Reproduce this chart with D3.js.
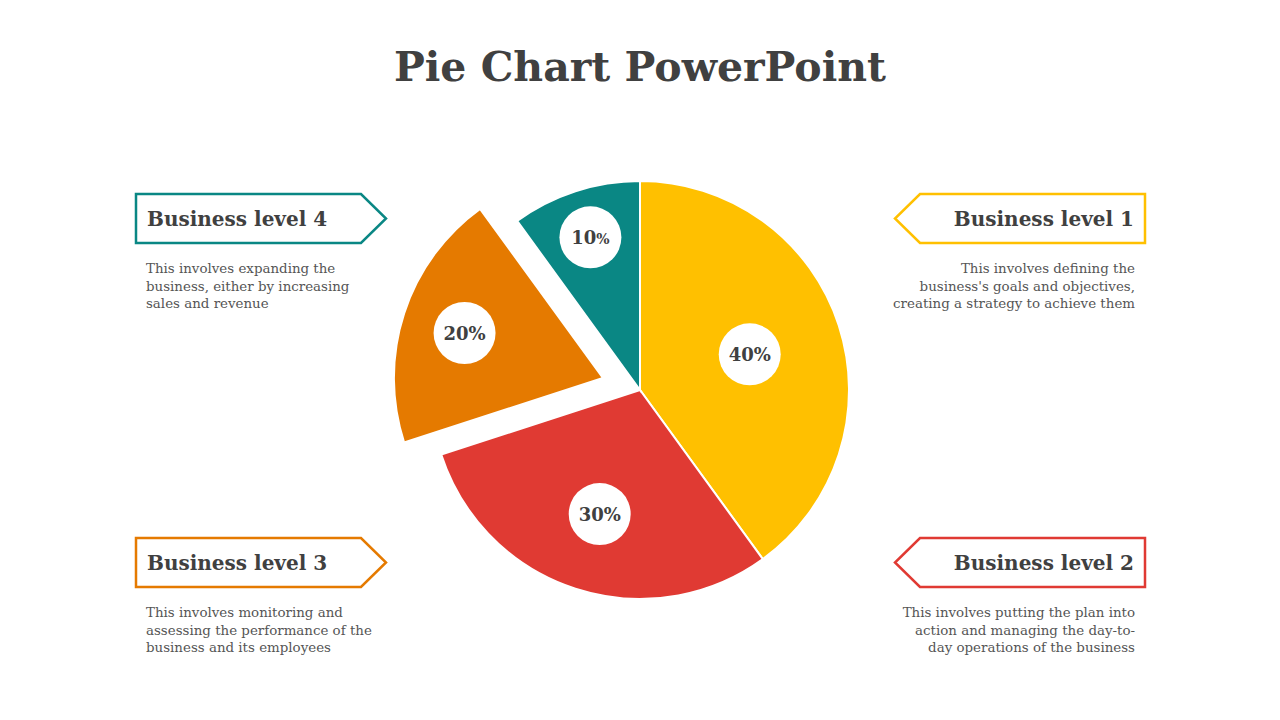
<!DOCTYPE html>
<html>
<head>
<meta charset="utf-8">
<script src="https://cdn.jsdelivr.net/npm/d3@7"></script>
<style>
  body { margin: 0; background: #fff; }
  svg { display: block; }
</style>
</head>
<body>
<script>
let width = 1280;
let height = 720;

let levels = ["Business level 1", "Business level 2", "Business level 3", "Business level 4"];
let shares = [40, 30, 20, 10];
let colors = ["#FFC000", "#E03A33", "#E57A00", "#0A8784"];
let exploded = [false, false, true, false];
let notes = [
    ["This involves defining the", "business's goals and objectives,", "creating a strategy to achieve them"],
    ["This involves putting the plan into", "action and managing the day-to-", "day operations of the business"],
    ["This involves monitoring and", "assessing the performance of the", "business and its employees"],
    ["This involves expanding the", "business, either by increasing", "sales and revenue"]
];

let serif = "'DejaVu Serif', 'Liberation Serif', serif";
let textColor = "#404040";

let svg = d3.select("body")
            .append("svg")
            .attr("width", width)
            .attr("height", height);

svg.append("text")
    .attr("x", width / 2)
    .attr("y", 81)
    .attr("text-anchor", "middle")
    .style("font-family", serif)
    .style("font-weight", "bold")
    .style("font-size", "41px")
    .style("fill", textColor)
    .text("Pie Chart PowerPoint");

// pie
let cx = 640, cy = 390, radius = 209;
let pie = d3.pie().sort(null).value(d => d);
let arc = d3.arc().innerRadius(0).outerRadius(radius);
let arcs = pie(shares);

let pieGroup = svg.append("g").attr("transform", `translate(${cx},${cy})`);

let slices = pieGroup.selectAll("g.slice")
    .data(arcs)
    .enter()
    .append("g")
    .attr("class", "slice")
    .attr("transform", (d, i) => {
        if (!exploded[i]) return null;
        let mid = (d.startAngle + d.endAngle) / 2;
        return `translate(${Math.sin(mid) * 39},${-Math.cos(mid) * 39})`;
    });

slices.append("path")
    .attr("d", arc)
    .style("fill", (d, i) => colors[i])
    .style("stroke", "#fff")
    .style("stroke-width", 2);

// label circles: narrower slices push the label further out
let labelPos = d => {
    let mid = (d.startAngle + d.endAngle) / 2;
    let f = d.value / d3.sum(shares);
    let r = radius * (0.84 - 0.72 * f);
    return [Math.sin(mid) * r, -Math.cos(mid) * r];
};

slices.append("circle")
    .attr("cx", d => labelPos(d)[0])
    .attr("cy", d => labelPos(d)[1])
    .attr("r", 31)
    .style("fill", "#fff");

let pct = slices.append("text")
    .attr("x", d => labelPos(d)[0])
    .attr("y", d => labelPos(d)[1] + 7)
    .attr("text-anchor", "middle")
    .style("font-family", serif)
    .style("font-weight", "bold")
    .style("font-size", "18px")
    .style("fill", textColor);
pct.append("tspan").text(d => d.value);
pct.append("tspan")
    .style("font-size", d => d.value < 20 ? "14px" : "18px")
    .text("%");

// callout boxes
let boxW = 250, boxH = 49, tip = 25;
let boxes = [
    {x: 895, y: 194, side: "right"},
    {x: 895, y: 538, side: "right"},
    {x: 136, y: 538, side: "left"},
    {x: 136, y: 194, side: "left"}
];

boxes.forEach((b, i) => {
    let g = svg.append("g");
    let pts;
    if (b.side === "left") {
        pts = [[b.x, b.y], [b.x + boxW - tip, b.y], [b.x + boxW, b.y + boxH / 2],
               [b.x + boxW - tip, b.y + boxH], [b.x, b.y + boxH]];
    } else {
        pts = [[b.x + tip, b.y], [b.x + boxW, b.y], [b.x + boxW, b.y + boxH],
               [b.x + tip, b.y + boxH], [b.x, b.y + boxH / 2]];
    }
    g.append("path")
        .attr("d", d3.line()(pts) + "Z")
        .style("fill", "#fff")
        .style("stroke", colors[i])
        .style("stroke-width", 2.5);

    let left = b.side === "left";
    let tx = left ? b.x + 11 : b.x + boxW - 11;
    g.append("text")
        .attr("x", tx)
        .attr("y", b.y + 32)
        .attr("text-anchor", left ? "start" : "end")
        .style("font-family", serif)
        .style("font-weight", "bold")
        .style("font-size", "20px")
        .style("fill", textColor)
        .text(levels[i]);

    let note = g.append("text")
        .attr("text-anchor", left ? "start" : "end")
        .style("font-family", serif)
        .style("font-size", "13.4px")
        .style("fill", "#555");
    note.selectAll("tspan")
        .data(notes[i])
        .enter()
        .append("tspan")
        .attr("x", left ? b.x + 10 : b.x + boxW - 10)
        .attr("y", (d, j) => b.y + 79 + j * 17.5)
        .text(d => d);
});
</script>
</body>
</html>
